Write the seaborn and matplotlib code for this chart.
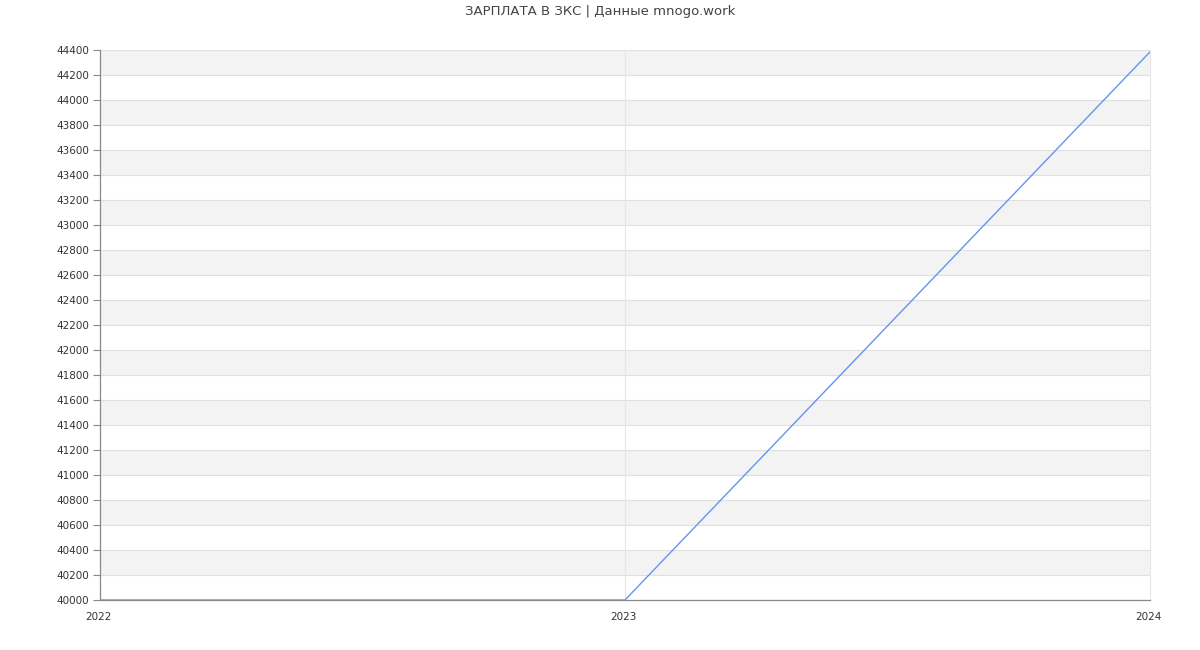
import matplotlib
matplotlib.use("Agg")
import matplotlib.pyplot as plt
import matplotlib.transforms as mtrans
import seaborn as sns
import pandas as pd
import numpy as np

years = [2022, 2023, 2024]
salary = [40000, 40000, 44385]
title = "ЗАРПЛАТА В ЗКС | Данные mnogo.work"

sns.set_theme(style="white")
plt.rcParams['font.family'] = ['DejaVu Sans']

df = pd.DataFrame({"year": years, "salary": salary})

fig = plt.figure(figsize=(12, 6.5), dpi=100)
ax = fig.add_axes([100/1200, 50/650, 1050/1200, 550/650])

ymin, ymax, step = 40000, 44400, 200
ticks = np.arange(ymin, ymax + 1, step)
for i, t in enumerate(ticks[:-1]):
    if i % 2 == 1:
        ax.axhspan(t, t + step, color="#f3f3f3", zorder=0, lw=0)
for t in ticks:
    ax.axhline(t, color="#e0e0e0", lw=0.8, zorder=0.5)
for x in years[1:]:
    ax.axvline(x, color="#e6e6e6", lw=0.8, zorder=0.5, clip_on=False)

sns.lineplot(data=df, x="year", y="salary", ax=ax, color="#6495ED", lw=1.0, zorder=3)

ax.set_xlim(years[0], years[-1])
ax.set_ylim(ymin, ymax)
ax.set_yticks(ticks)
ax.set_yticklabels([str(t) for t in ticks], fontsize=7.5, color="#333333")
ax.set_xticks(years)
ax.set_xticklabels([str(y) for y in years], fontsize=7.5, color="#333333")
ax.tick_params(axis="y", length=5, width=0.8, color="#888888", pad=3, left=True)
ax.tick_params(axis="x", length=0, pad=9)
offset = mtrans.ScaledTranslation(-2/100, 0, fig.dpi_scale_trans)
for lbl in ax.get_xticklabels():
    lbl.set_transform(lbl.get_transform() + offset)
ax.set_xlabel("")
ax.set_ylabel("")
for s in ["top", "right"]:
    ax.spines[s].set_visible(False)
for s in ["left", "bottom"]:
    ax.spines[s].set_color("#888888")
    ax.spines[s].set_linewidth(0.9)

fig.text(0.5, 1 - 12/650, title, ha="center", va="center", fontsize=9.5, color="#444444")

fig.savefig("out.png", dpi=100)
